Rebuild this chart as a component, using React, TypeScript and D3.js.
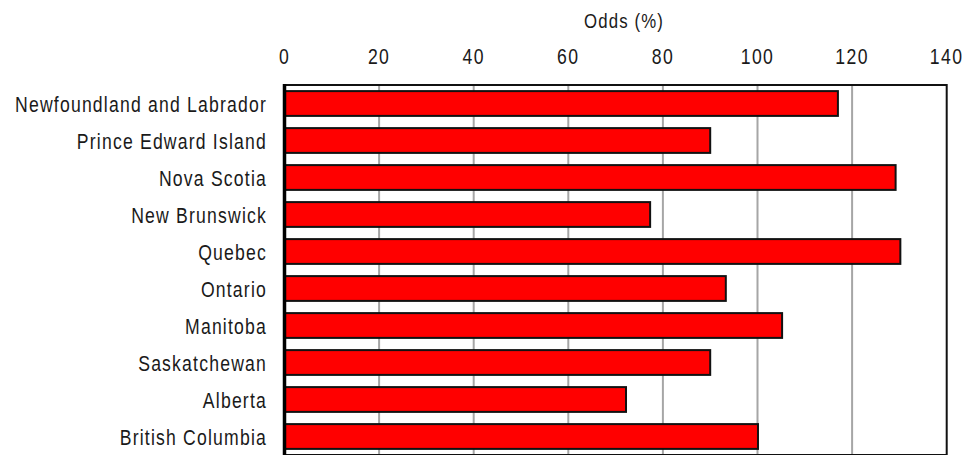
import React from "react";
import * as d3 from "d3";

const categories = [
  "Newfoundland and Labrador",
  "Prince Edward Island",
  "Nova Scotia",
  "New Brunswick",
  "Quebec",
  "Ontario",
  "Manitoba",
  "Saskatchewan",
  "Alberta",
  "British Columbia",
];
const values = [117, 90, 129.2, 77.3, 130.2, 93.3, 105.2, 90, 72.2, 100.1];
const xTicks = [0, 20, 40, 60, 80, 100, 120, 140];
const axisTitle = "Odds (%)";

const W = 966;
const H = 455;
const M = { left: 284.5, right: 966 - 946.7, top: 85, bottom: 0 };
const FONT = "'Liberation Sans', Arial, sans-serif";
const SX = 0.8;

function NarrowText({
  x,
  y,
  anchor,
  size,
  ls,
  children,
}: {
  x: number;
  y: number;
  anchor: "start" | "middle" | "end";
  size: number;
  ls: number;
  children: React.ReactNode;
}) {
  return (
    <g transform={`translate(${x},${y}) scale(${SX},1)`}>
      <text
        x={0}
        y={0}
        textAnchor={anchor}
        fontSize={size}
        fill="#1a1a1a"
        letterSpacing={ls}
        fontFamily={FONT}
      >
        {children}
      </text>
    </g>
  );
}

export default function App() {
  const x = d3.scaleLinear().domain([0, 140]).range([M.left, W - M.right]);
  const y = d3
    .scaleBand<string>()
    .domain(categories)
    .range([M.top, M.top + 37 * categories.length])
    .paddingInner(0.33)
    .paddingOuter(0.165);

  const plotBottom = M.top + 37 * categories.length;

  return (
    <svg
      width={W}
      height={H}
      style={{ position: "absolute", left: 0, top: 0, background: "#fff" }}
    >
      <rect x={0} y={0} width={W} height={H} fill="#fff" />
      {/* gridlines */}
      {xTicks.slice(1, -1).map((t) => (
        <line
          key={t}
          x1={x(t)}
          x2={x(t)}
          y1={M.top}
          y2={plotBottom}
          stroke="#a6a6a6"
          strokeWidth={2}
        />
      ))}
      {/* plot border */}
      <rect
        x={x(0)}
        y={M.top}
        width={x(140) - x(0)}
        height={plotBottom - M.top}
        fill="none"
        stroke="#111"
        strokeWidth={2}
      />
      {/* bars */}
      {categories.map((c, i) => (
        <rect
          key={c}
          x={x(0)}
          y={y(c)!}
          width={x(values[i]) - x(0)}
          height={y.bandwidth()}
          fill="#ff0000"
          stroke="#111"
          strokeWidth={2}
        />
      ))}
      {/* left axis */}
      <line x1={x(0)} x2={x(0)} y1={M.top - 1} y2={plotBottom} stroke="#000" strokeWidth={3.5} />
      {/* tick labels */}
      {xTicks.map((t) => (
        <NarrowText key={t} x={x(t)} y={64} anchor="middle" size={22} ls={1.8}>
          {t}
        </NarrowText>
      ))}
      <NarrowText x={624} y={28} anchor="middle" size={21} ls={1.4}>
        {axisTitle}
      </NarrowText>
      {/* category labels */}
      {categories.map((c) => (
        <NarrowText
          key={c}
          x={267}
          y={y(c)! + y.bandwidth() / 2 + 8}
          anchor="end"
          size={22}
          ls={1.5}
        >
          {c}
        </NarrowText>
      ))}
    </svg>
  );
}
